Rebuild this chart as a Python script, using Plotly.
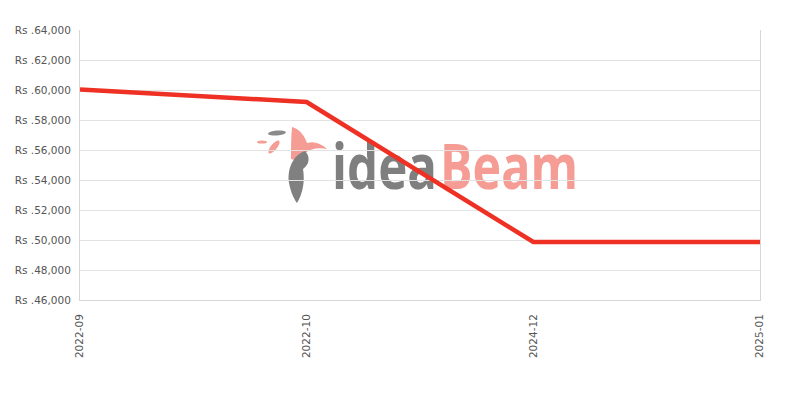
import base64
import plotly.graph_objects as go

months = ["2022-09", "2022-10", "2024-12", "2025-01"]
prices = [60030, 59200, 49870, 49870]
tick_vals = [46000, 48000, 50000, 52000, 54000, 56000, 58000, 60000, 62000, 64000]
tick_text = ["Rs .46,000", "Rs .48,000", "Rs .50,000", "Rs .52,000", "Rs .54,000",
             "Rs .56,000", "Rs .58,000", "Rs .60,000", "Rs .62,000", "Rs .64,000"]

svg = """<svg xmlns='http://www.w3.org/2000/svg' width='325' height='80' viewBox='0 0 325 80'>
<path d='M37 2 C45 4 50 12 52 18 C58 16 66 18 72 24 C62 22 56 24 50 28 C46 34 40 36 36 34 C36 24 36 12 37 2 Z' fill='#f59c94'/>
<ellipse cx='22' cy='8' rx='9' ry='2.5' fill='#8a8a8a' transform='rotate(-5 22 8)'/>
<ellipse cx='7' cy='17' rx='5' ry='1.6' fill='#f59c94'/>
<ellipse cx='19' cy='22' rx='3' ry='8' fill='#f59c94' transform='rotate(40 19 22)'/>
<path d='M50 26 C38 30 32 44 34 58 C36 68 39 74 42 78 C48 68 50 56 48 44 C54 40 56 32 50 26 Z' fill='#808080'/>
<text x='77' y='64' font-family='Open Sans' font-weight='700' font-size='62' fill='#7f7f7f' textLength='105' lengthAdjust='spacingAndGlyphs'>idea</text>
<text x='185' y='64' font-family='Open Sans' font-weight='700' font-size='62' fill='#f59c94' textLength='138' lengthAdjust='spacingAndGlyphs'>Beam</text>
</svg>"""
src = "data:image/svg+xml;base64," + base64.b64encode(svg.encode()).decode()

fig = go.Figure()
fig.add_trace(go.Scatter(
    x=months, y=prices, mode="lines",
    line=dict(color="#ee3124", width=4.5),
    hoverinfo="x+y", showlegend=False,
))

fig.add_layout_image(dict(
    source=src, xref="paper", yref="paper",
    x=(255 - 80) / 680, y=(300 - 125) / 270,
    sizex=325 / 680, sizey=80 / 270,
    xanchor="left", yanchor="top", sizing="stretch", layer="below",
))

fig.update_layout(
    width=800, height=400,
    margin=dict(l=80, r=40, t=30, b=100),
    paper_bgcolor="white", plot_bgcolor="rgba(0,0,0,0)",
    font=dict(family="DejaVu Sans, Verdana, sans-serif", size=10.5, color="#555555"),
)
fig.update_xaxes(
    type="category", range=[0, 3], tickangle=-90,
    showgrid=False, showline=True, linecolor="#d6d6d6", linewidth=1,
    ticks="outside", ticklen=9, tickcolor="rgba(0,0,0,0)",
    tickfont=dict(size=10.5, color="#555555"),
)
fig.update_yaxes(
    range=[46000, 64000], tickvals=tick_vals, ticktext=tick_text,
    showgrid=True, gridcolor="#e2e2e2", gridwidth=1,
    showline=True, linecolor="#d6d6d6", linewidth=1, mirror=True,
    zeroline=False, ticks="outside", ticklen=6, tickcolor="rgba(0,0,0,0)",
    tickfont=dict(size=10.5, color="#555555"),
)

fig.write_html("out.html", config={"displayModeBar": False},
               post_script="document.body.style.margin='0';")
